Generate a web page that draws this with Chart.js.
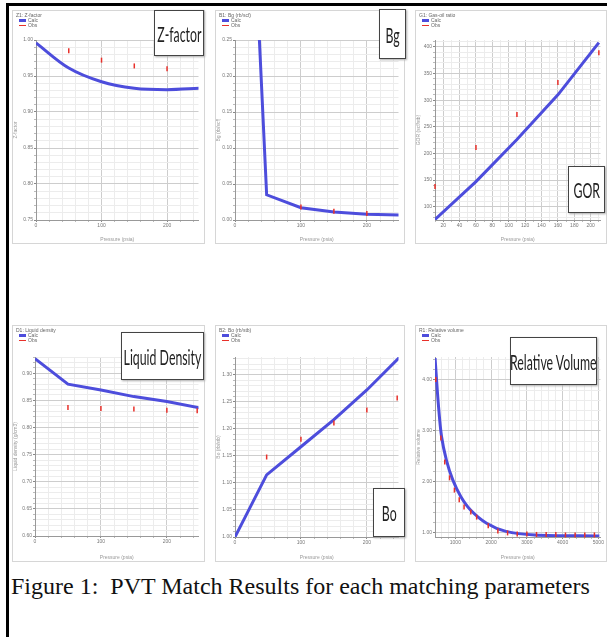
<!DOCTYPE html>
<html>
<head>
<meta charset="utf-8">
<script src="https://cdn.jsdelivr.net/npm/chart.js@4.4.1/dist/chart.umd.min.js"></script>
<style>
  body { margin: 0; width: 607px; height: 637px; overflow: hidden; background: #fff; position: relative; font-family: Lato, sans-serif; }
  .frame { position: absolute; left: 6px; top: 3px; width: 610px; height: 640px; border-top: 3px solid #000; border-left: 3px solid #000; }
  .panel { position: absolute; border: 1px solid #d6d6d6; background: #fff; box-sizing: border-box; overflow: hidden; }
  .panel canvas { position: absolute; left: 0; top: 0; }
  .hdr { position: absolute; left: 3px; top: 2px; font: 5px Arial, sans-serif; color: #666; line-height: 5px; z-index: 2; }
  .hdr i { display: inline-block; width: 7px; height: 3px; margin: 0 2px 0 3px; vertical-align: middle; }
  .tag { position: absolute; background: #fff; border: 1.5px solid #444; box-shadow: 1px 1px 2px #aaa; box-sizing: border-box;
         display: flex; align-items: center; justify-content: center; z-index: 3; overflow: hidden; }
  .tag span { font-family: Lato, sans-serif; font-size: 22px; color: #222; transform: scaleX(0.56); white-space: nowrap; }
  .caption { position: absolute; left: 11px; top: 573px; font: 24px "Liberation Serif", "Times New Roman", serif; white-space: nowrap; color: #111; }
</style>
</head>
<body>
<div class="frame"></div>

<div class="panel" style="left:12px;top:10px;width:193px;height:234px"><div class="hdr">Z1: Z-factor<br><i style="background:#4d4ddc"></i>Calc<br><i style="background:#e8302a;height:1px"></i>Obs</div><canvas id="c1" width="191" height="232"></canvas></div>
<div class="panel" style="left:215px;top:10px;width:190px;height:234px"><div class="hdr">B1: Bg (rb/scf)<br><i style="background:#4d4ddc"></i>Calc<br><i style="background:#e8302a;height:1px"></i>Obs</div><canvas id="c2" width="188" height="232"></canvas></div>
<div class="panel" style="left:415px;top:10px;width:192px;height:234px"><div class="hdr">G1: Gas-oil ratio<br><i style="background:#4d4ddc"></i>Calc<br><i style="background:#e8302a;height:1px"></i>Obs</div><canvas id="c3" width="190" height="232"></canvas></div>
<div class="panel" style="left:12px;top:325px;width:193px;height:237px"><div class="hdr">D1: Liquid density<br><i style="background:#4d4ddc"></i>Calc<br><i style="background:#e8302a;height:1px"></i>Obs</div><canvas id="c4" width="191" height="235"></canvas></div>
<div class="panel" style="left:215px;top:325px;width:190px;height:237px"><div class="hdr">B2: Bo (rb/stb)<br><i style="background:#4d4ddc"></i>Calc<br><i style="background:#e8302a;height:1px"></i>Obs</div><canvas id="c5" width="188" height="235"></canvas></div>
<div class="panel" style="left:415px;top:325px;width:192px;height:237px"><div class="hdr">R1: Relative volume<br><i style="background:#4d4ddc"></i>Calc<br><i style="background:#e8302a;height:1px"></i>Obs</div><canvas id="c6" width="190" height="235"></canvas></div>

<div class="tag" style="left:154px;top:10px;width:50px;height:46px"><span>Z-factor</span></div>
<div class="tag" style="left:379px;top:9px;width:27px;height:50px"><span>Bg</span></div>
<div class="tag" style="left:568px;top:166px;width:37px;height:47px"><span>GOR</span></div>
<div class="tag" style="left:121px;top:332px;width:83px;height:48px"><span>Liquid Density</span></div>
<div class="tag" style="left:373px;top:488px;width:32px;height:49px"><span>Bo</span></div>
<div class="tag" style="left:510px;top:337px;width:87px;height:48px"><span>Relative Volume</span></div>

<div class="caption">Figure 1:&nbsp; PVT Match Results for each matching parameters</div>

<script>
const BLUE = '#4d4ddc';
const RED = '#e8302a';

// Z-factor
const zCalcP = [0, 50, 100, 150, 200, 250];
const zCalc = [0.996, 0.961, 0.942, 0.933, 0.931, 0.933];
const zObsP = [50, 100, 150, 200];
const zObs = [0.985, 0.972, 0.964, 0.960];
const zXTicks = [0, 100, 200];
const zYTicks = [0.75, 0.80, 0.85, 0.90, 0.95, 1.00];

// Bg
const bgCalcP = [37, 48, 100, 150, 200, 250];
const bgCalc = [0.250, 0.035, 0.017, 0.011, 0.008, 0.007];
const bgObsP = [100, 150, 200];
const bgObs = [0.018, 0.012, 0.009];
const bgXTicks = [0, 100, 200];
const bgYTicks = [0, 0.05, 0.10, 0.15, 0.20, 0.25];

// GOR
const gorCalcP = [10, 60, 110, 160, 210];
const gorCalc = [76, 147, 226, 310, 408];
const gorObsP = [10, 60, 110, 160, 210];
const gorObs = [138, 211, 273, 333, 389];
const gorXTicks = [20, 40, 60, 80, 100, 120, 140, 160, 180, 200];
const gorYTicks = [100, 150, 200, 250, 300, 350, 400];

// Liquid density
const denCalcP = [0, 50, 100, 150, 200, 250];
const denCalc = [0.927, 0.880, 0.869, 0.857, 0.848, 0.836];
const denObsP = [50, 100, 150, 200, 246];
const denObs = [0.837, 0.835, 0.834, 0.832, 0.831];
const denXTicks = [0, 100, 200];
const denYTicks = [0.60, 0.65, 0.70, 0.75, 0.80, 0.85, 0.90];

// Bo
const boCalcP = [0, 48, 100, 150, 200, 250];
const boCalc = [1.000, 1.115, 1.167, 1.217, 1.272, 1.333];
const boObsP = [48, 100, 150, 200, 246];
const boObs = [1.148, 1.181, 1.211, 1.235, 1.257];
const boXTicks = [0, 100, 200];
const boYTicks = [1.00, 1.05, 1.10, 1.15, 1.20, 1.25, 1.30];

// Relative volume
const rvCalcP = [432, 522, 613, 749, 927, 1154, 1424, 1873, 2414, 3225, 5027];
const rvCalc = [4.43, 3.54, 2.89, 2.43, 2.04, 1.71, 1.45, 1.19, 1.03, 0.96, 0.94];
const rvObsP = [451, 595, 703, 838, 973, 1108, 1243, 1432, 1595, 1919, 2189, 2460, 2730, 3000, 3270, 3540, 3810, 4080, 4350, 4620, 4890];
const rvObs = [4.01, 2.86, 2.39, 2.08, 1.84, 1.65, 1.51, 1.41, 1.31, 1.14, 1.04, 1.00, 0.98, 0.98, 0.97, 0.97, 0.97, 0.96, 0.96, 0.96, 0.96];
const rvXTicks = [1000, 2000, 3000, 4000, 5000];
const rvYTicks = [1, 2, 3, 4];

function pairs(xs, ys) {
  return xs.map((x, i) => ({ x: x, y: ys[i] }));
}

// major ticks come from the arrays above, minor grid lines split each step
function axis(dir, min, max, major, minorDiv, dec, title, size) {
  const step = major[1] - major[0];
  const sub = step / minorDiv;
  return {
    type: 'linear', min: min, max: max,
    afterBuildTicks: s => {
      const t = [];
      for (let k = -Math.ceil((major[0] - min) / sub); ; k++) {
        const v = +(major[0] + k * sub).toFixed(6);
        if (v > max + 1e-9) break;
        if (v < min - 1e-9) continue;
        t.push({ value: v, major: k % minorDiv === 0 });
      }
      s.ticks = t;
    },
    afterFit: s => { if (dir === 'x') s.height = size; else s.width = size; },
    ticks: {
      autoSkip: false, maxRotation: 0, padding: 1, color: '#777',
      font: { size: 5, family: 'Arial' },
      callback: (v, i, ticks) => ticks[i].major ? Number(v).toFixed(dec) : ''
    },
    grid: {
      color: c => c.tick && c.tick.major ? '#cdcdcd' : '#ececec',
      tickColor: c => c.tick && c.tick.major ? '#888' : '#bbb',
      tickLength: 2, lineWidth: 1
    },
    border: { color: '#999', width: 1 },
    title: { display: true, text: title, color: '#999', font: { size: 5, family: 'Arial' }, padding: 0 }
  };
}

function panel(id, p) {
  new Chart(document.getElementById(id), {
    type: 'scatter',
    data: {
      datasets: [
        { label: 'Calc', data: pairs(p.calcX, p.calcY), showLine: true, borderColor: BLUE, backgroundColor: BLUE,
          borderWidth: 3, pointRadius: 0, tension: p.tension || 0, order: 2 },
        { label: 'Obs', data: pairs(p.obsX, p.obsY), showLine: false, pointStyle: 'line', rotation: 90,
          pointRadius: 2.5, borderColor: RED, borderWidth: 1.5, order: 1, clip: false }
      ]
    },
    options: {
      responsive: false, animation: false, devicePixelRatio: 1,
      layout: { padding: { top: p.top, right: 0, left: 0, bottom: 0 } },
      plugins: { legend: { display: false }, tooltip: { enabled: false } },
      scales: { x: p.x, y: p.y }
    }
  });
}

panel('c1', { calcX: zCalcP, calcY: zCalc, obsX: zObsP, obsY: zObs, tension: 0.35, top: 29,
  x: axis('x', 0, 248, zXTicks, 5, 0, 'Pressure (psia)', 23),
  y: axis('y', 0.75, 1.00, zYTicks, 5, 2, 'Z-factor', 23) });

panel('c2', { calcX: bgCalcP, calcY: bgCalc, obsX: bgObsP, obsY: bgObs, top: 29,
  x: axis('x', 0, 248, bgXTicks, 5, 0, 'Pressure (psia)', 23),
  y: axis('y', 0, 0.25, bgYTicks, 5, 2, 'Bg (rb/scf)', 19) });

panel('c3', { calcX: gorCalcP, calcY: gorCalc, obsX: gorObsP, obsY: gorObs, top: 29,
  x: axis('x', 10, 212, gorXTicks, 2, 0, 'Pressure (psia)', 23),
  y: axis('y', 75, 413, gorYTicks, 5, 0, 'GOR (scf/stb)', 19) });

panel('c4', { calcX: denCalcP, calcY: denCalc, obsX: denObsP, obsY: denObs, top: 31,
  x: axis('x', 0, 248, denXTicks, 5, 0, 'Pressure (psia)', 25),
  y: axis('y', 0.60, 0.93, denYTicks, 5, 2, 'Liquid density (g/cm3)', 22) });

panel('c5', { calcX: boCalcP, calcY: boCalc, obsX: boObsP, obsY: boObs, top: 31,
  x: axis('x', 0, 248, boXTicks, 5, 0, 'Pressure (psia)', 24),
  y: axis('y', 1.00, 1.333, boYTicks, 5, 2, 'Bo (rb/stb)', 19) });

panel('c6', { calcX: rvCalcP, calcY: rvCalc, obsX: rvObsP, obsY: rvObs, tension: 0.3, top: 31,
  x: axis('x', 430, 5060, rvXTicks, 5, 0, 'Pressure (psia)', 24),
  y: axis('y', 0.92, 4.45, rvYTicks, 5, 2, 'Relative volume', 19) });
</script>
</body>
</html>
